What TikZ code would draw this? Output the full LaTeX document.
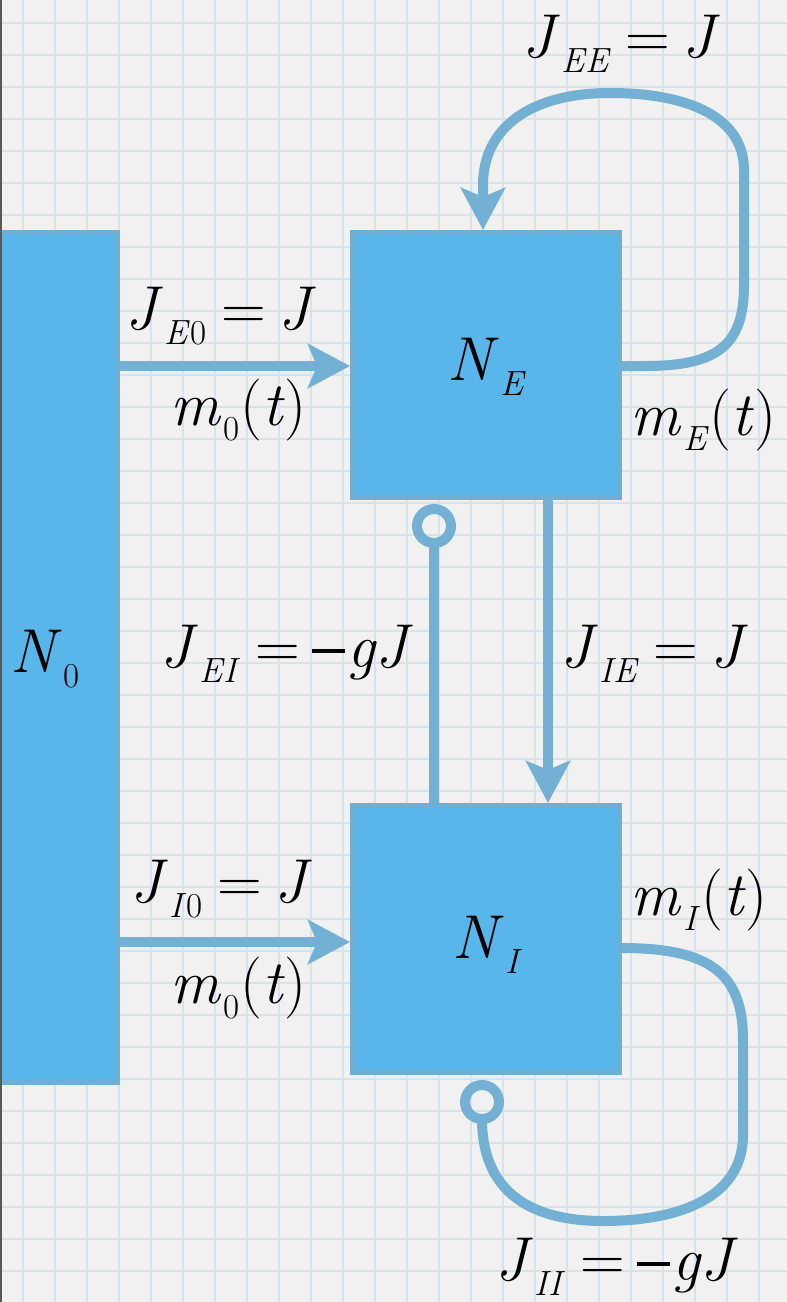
\documentclass[tikz,border=0pt]{standalone}
\usetikzlibrary{arrows.meta}
\definecolor{paper}{RGB}{241,241,242}
\definecolor{gridc}{RGB}{216,226,233}
\definecolor{boxfill}{RGB}{89,182,234}
\definecolor{boxedge}{RGB}{112,174,212}
\definecolor{wire}{RGB}{115,176,212}
\newcommand\bigfnt{\fontsize{62}{66}\selectfont}
\newcommand\sbs[1]{\kern2pt\raisebox{-15pt}{\fontsize{35}{38}\selectfont #1}\kern1pt}
\newcommand\eqs{\hspace{14pt}=\hspace{12pt}}
\newcommand\mns{\rule[14pt]{33pt}{3.6pt}\kern3pt}
\begin{document}
\begin{tikzpicture}[x=1pt,y=-1pt,
  box/.style={fill=boxfill,draw=boxedge,line width=5pt,inner sep=0pt},
  wirel/.style={draw=wire,line width=10pt},
  tip/.style={-{Stealth[length=42pt,width=44pt,inset=9pt]}},
  lab/.style={anchor=base west,inner sep=0pt,font=\bigfnt}]
\useasboundingbox (0,0) rectangle (787,1302);
\fill[paper] (0,0) rectangle (787,1302);
\foreach \k in {0,...,24} \draw[gridc,line width=1.8pt] (23+32*\k,0) -- (23+32*\k,1302);
\foreach \k in {0,...,40} \draw[gridc,line width=1.8pt] (0,23+32*\k) -- (787,23+32*\k);
% boxes
\node[box,minimum width=120pt,minimum height=850pt] (N0) at (57.5,657.5) {};
\node[box,minimum width=267pt,minimum height=265pt] (NE) at (486,365) {};
\node[box,minimum width=267pt,minimum height=267pt] (NI) at (486,939) {};
% coordinates
\coordinate (inhE) at (434,526);
\coordinate (inhI) at (482,1102);
% inputs from N0
\draw[wirel,tip] (N0.east |- 0,366) -- (NE.west |- 0,366);
\draw[wirel,tip] (N0.east |- 0,942) -- (NI.west |- 0,942);
% E -> I
\draw[wirel,tip] (NE.south -| 548,0) -- (NI.north -| 548,0);
% I -> E inhibitory
\draw[wirel] (NI.north -| 434,0) -- ([yshift=-17pt]inhE);
\draw[wire,line width=10pt] (inhE) circle[radius=17pt];
% E self loop
\draw[wirel,tip] (NE.east |- 0,366) -- (645,366)
  .. controls (718,366) and (744,345) .. (744,285) -- (744,170)
  .. controls (744,118) and (690,93) .. (610,93)
  .. controls (530,93) and (483,128) .. (483,185) -- (NE.north -| 483,0);
% I self loop
\draw[wirel] (NI.east |- 0,948) .. controls (712,948) and (743,975) .. (743,1040)
  -- (743,1135) .. controls (743,1195) and (684,1221) .. (603,1221)
  .. controls (522,1221) and (482,1185) .. ([yshift=-17pt]inhI);
\draw[wire,line width=10pt] (inhI) circle[radius=17pt];
% labels
\node[lab] (lJE0) at (125,329) {\textit{J}\sbs{\textit{E}0}\eqs\textit{J}};
\node[lab] (lm0a) at (170,425) {\textit{m}\sbs{0}(\textit{t})};
\node[lab] (lN0) at (10,672) {\textit{N}\sbs{0}};
\node[lab] (lJEI) at (160,667) {\textit{J}\sbs{\textit{EI}}\eqs\mns\textit{gJ}};
\node[lab] (lJIE) at (560,667) {\textit{J}\sbs{\textit{IE}}\eqs\textit{J}};
\node[lab] (lNE) at (447,380) {\textit{N}\sbs{\textit{E}}};
\node[lab] (lmE) at (630,435) {\textit{m}\sbs{\textit{E}}(\textit{t})};
\node[lab] (lJEE) at (522,57) {\textit{J}\sbs{\textit{EE}}\eqs\textit{J}};
\node[lab] (lJI0) at (130,902) {\textit{J}\sbs{\textit{I}0}\eqs\textit{J}};
\node[lab] (lm0b) at (170,1003) {\textit{m}\sbs{0}(\textit{t})};
\node[lab] (lNI) at (452,958) {\textit{N}\sbs{\textit{I}}};
\node[lab] (lmI) at (630,915) {\textit{m}\sbs{\textit{I}}(\textit{t})};
\node[lab] (lJII) at (495,1280) {\textit{J}\sbs{\textit{II}}\eqs\mns\textit{gJ}};
% left edge
\draw[black!65,line width=2pt] (1,0) -- (1,1302);
\end{tikzpicture}
\end{document}
